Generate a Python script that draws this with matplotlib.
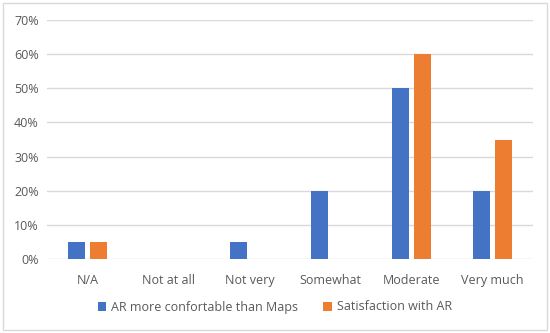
import matplotlib
matplotlib.use("Agg")
import matplotlib.pyplot as plt
import numpy as np
from matplotlib.patches import Rectangle

categories = ["N/A", "Not at all", "Not very", "Somewhat", "Moderate", "Very much"]
ar_comfortable = [5, 0, 5, 20, 50, 20]
satisfaction = [5, 0, 0, 0, 60, 35]
series_names = ["AR more confortable than Maps", "Satisfaction with AR"]
yticks = [0, 10, 20, 30, 40, 50, 60, 70]

blue = "#4472C4"
orange = "#ED7D31"
txt = "#595959"

plt.rcParams['font.family'] = ['Open Sans', 'DejaVu Sans']

fig = plt.figure(figsize=(5.5, 3.33), dpi=100)
ax = fig.add_axes([47/550, 1-259/333, (533-47)/550, (259-20)/333])

x = np.arange(len(categories))
w = 0.21
gap = 0.05
ax.bar(x - (w+gap)/2, ar_comfortable, w, color=blue, label=series_names[0], zorder=3)
ax.bar(x + (w+gap)/2, satisfaction, w, color=orange, label=series_names[1], zorder=3)

ax.set_xlim(-0.5, len(categories)-0.5)
ax.set_ylim(0, 70)
ax.set_yticks(yticks)
ax.set_yticklabels([f"{t}%" for t in yticks], color=txt, fontsize=9)
ax.set_xticks(x)
ax.set_xticklabels(categories, color=txt, fontsize=9)
ax.tick_params(length=0, pad=6)
ax.tick_params(axis='x', pad=11)
ax.yaxis.grid(True, color="#D9D9D9", linewidth=1, zorder=0)
for s in ax.spines.values():
    s.set_visible(False)

fig.legend(loc="center", bbox_to_anchor=(0.5, 1-307/333), ncol=2, frameon=False,
           fontsize=9, labelcolor=txt, handlelength=0.7, handleheight=0.7,
           columnspacing=2.0, handletextpad=0.4)

fig.patches.append(Rectangle((3/550, 3/333), 544/550, 327/333, transform=fig.transFigure,
                             fill=False, edgecolor="#D9D9D9", linewidth=1))

fig.savefig("out.png", dpi=100)
